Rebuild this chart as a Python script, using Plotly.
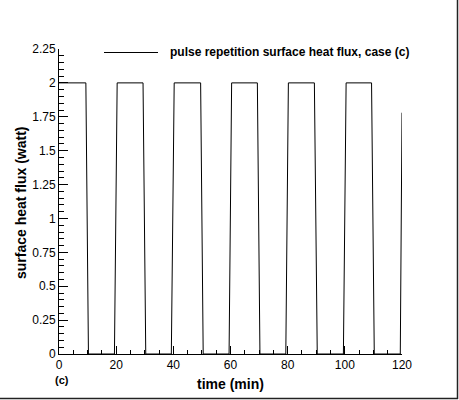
import plotly.graph_objects as go

# data
time_min = [0, 9.4, 10.3, 19.4, 20.35, 29.4, 30.35, 39.3, 40.3, 49.55, 50.45,
            59.5, 60.4, 69.4, 70.3, 79.35, 80.25, 89.35, 90.35, 99.5, 100.45,
            109.35, 110.3, 119.4, 120]
heat_flux = [2, 2, 0, 0, 2, 2, 0, 0, 2, 2, 0,
             0, 2, 2, 0, 0, 2, 2, 0, 0, 2,
             2, 0, 0, 1.78]
y_ticks = [0, 0.25, 0.5, 0.75, 1, 1.25, 1.5, 1.75, 2, 2.25]
y_tick_labels = ["0", "0.25", "0.5", "0.75", "1", "1.25", "1.5", "1.75", "2", "2.25"]
x_ticks = [0, 20, 40, 60, 80, 100, 120]
legend_text = "pulse repetition surface heat flux, case (c)"

FONT = "Liberation Sans, Arial, sans-serif"

W, H = 459, 400
L, T = 59, 49
PW, PH = 343, 305

fig = go.Figure()
fig.add_trace(go.Scatter(x=time_min, y=heat_flux, mode="lines",
                         line=dict(color="black", width=1),
                         showlegend=False, hoverinfo="skip"))

fig.update_layout(
    width=W, height=H,
    margin=dict(l=L, r=W - L - PW, t=T, b=H - T - PH, pad=0, autoexpand=False),
    paper_bgcolor="white", plot_bgcolor="white",
    font=dict(family=FONT, color="black", size=12),
    xaxis=dict(range=[0, 120], showgrid=False, zeroline=False,
               showline=True, linecolor="black", linewidth=1,
               ticks="inside", ticklen=8, tickwidth=1, tickcolor="black",
               tickvals=x_ticks, ticktext=[str(v) for v in x_ticks],
               tickfont=dict(size=12, family=FONT),
               minor=dict(ticks="inside", ticklen=4, dtick=5, tick0=0,
                          tickcolor="black", tickwidth=1, showgrid=False)),
    yaxis=dict(range=[0, 2.25], showgrid=False, zeroline=False,
               showline=True, linecolor="black", linewidth=1,
               ticks="inside", ticklen=9, tickwidth=1, tickcolor="black",
               tickvals=y_ticks, ticktext=y_tick_labels,
               tickfont=dict(size=12, family=FONT),
               minor=dict(ticks="inside", ticklen=5, dtick=0.05, tick0=0,
                          tickcolor="black", tickwidth=1, showgrid=False)),
)


def px(xp):
    return (xp - L) / PW


def py(yp):
    return (T + PH - yp) / PH


# legend drawn as a sample line plus text
fig.add_shape(type="line", xref="paper", yref="paper",
              x0=px(104), x1=px(158), y0=py(52.5), y1=py(52.5),
              line=dict(color="black", width=1))
fig.add_annotation(text="<b>" + legend_text + "</b>", xref="paper", yref="paper",
                   x=px(168), y=py(52.5), xanchor="left", yanchor="middle",
                   showarrow=False, font=dict(size=12, family=FONT))

# axis titles
fig.add_annotation(text="<b>time (min)</b>", xref="paper", yref="paper",
                   x=0.5, y=py(384), xanchor="center", yanchor="middle",
                   showarrow=False, font=dict(size=14, family=FONT))
fig.add_annotation(text="<b>surface heat flux (watt)</b>", xref="paper", yref="paper",
                   x=px(21), y=py(203), xanchor="center", yanchor="middle",
                   textangle=-90, showarrow=False, font=dict(size=14, family=FONT))
fig.add_annotation(text="<b>(c)</b>", xref="paper", yref="paper",
                   x=px(62), y=py(380), xanchor="center", yanchor="middle",
                   showarrow=False, font=dict(size=11, family=FONT))

# frame lines at the right and bottom of the picture
fig.add_shape(type="line", xref="paper", yref="paper",
              x0=px(457.5), x1=px(457.5), y0=py(399), y1=py(0),
              line=dict(color="#222222", width=1.5))
fig.add_shape(type="line", xref="paper", yref="paper",
              x0=px(0), x1=px(458), y0=py(398.5), y1=py(398.5),
              line=dict(color="#222222", width=1.5))

fig.write_html("out.html",
               config={"displayModeBar": False},
               post_script="document.body.style.margin='0';"
                           "document.body.style.overflow='hidden';")
